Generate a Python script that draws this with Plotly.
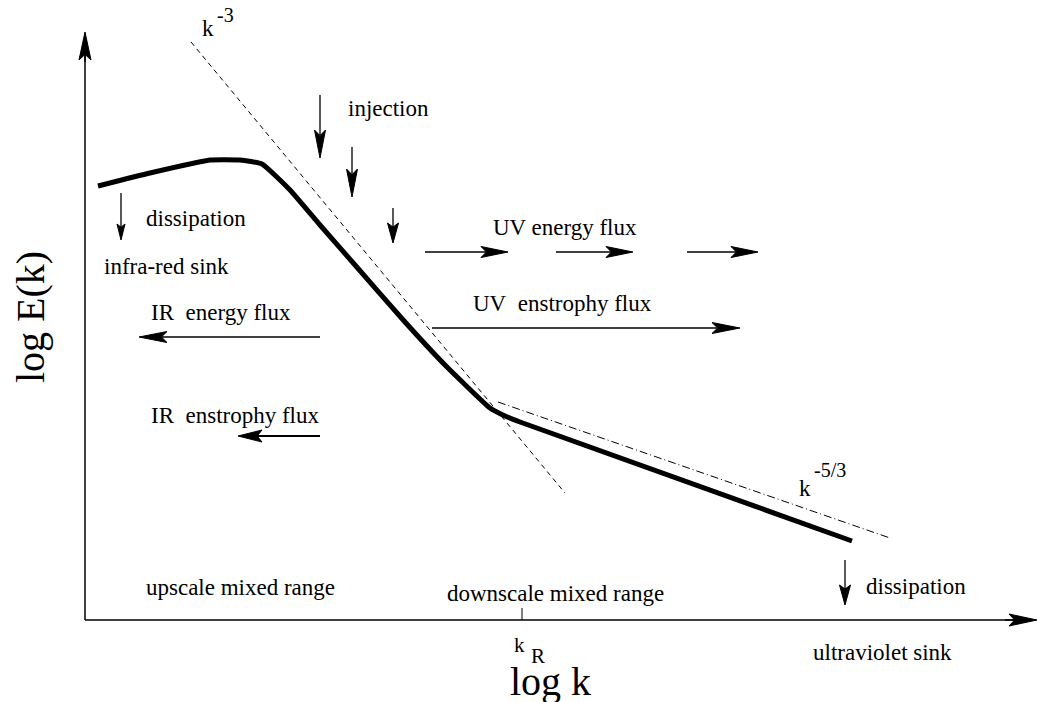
import math
import plotly.graph_objects as go

W, H = 1042, 702
FONT = "Liberation Serif, Times New Roman, serif"

# Spectrum curve (log k, log E) in diagram units (origin bottom-left of page)
spec_k = [98, 150, 210, 240, 262, 290, 320, 355, 405, 445, 490, 505, 520, 852]
spec_E = [516, 529, 542, 542, 538, 512, 477, 437, 380, 337, 294, 286, 280, 161]

# k^-3 reference line
km3_k = [191, 565]
km3_E = [660, 209]

# k^-5/3 reference line
k53_k = [498, 890]
k53_E = [300, 164]

# axes
axis_k = [85, 1037]
axis_E = [82, 670]
kR = 522

# arrows: (tail k, tail E, tip k, tip E, head length)
axis_arrows = [(85, 640, 85, 670, 28), (1005, 82, 1037, 82, 28)]
injection_arrows = [(320, 607, 320, 544, 28), (352, 555, 352, 505, 28), (393, 494, 393, 459, 20)]
dissipation_arrows = [(121, 509, 121, 462, 16), (845, 142, 845, 97, 20)]
uv_energy_arrows = [(425, 450, 508, 450, 27), (556, 450, 633, 450, 27), (687, 450, 758, 450, 27)]
uv_enstrophy_arrows = [(432, 374, 740, 374, 28)]
ir_energy_arrows = [(320, 365, 139, 365, 28)]
ir_enstrophy_arrows = [(320, 266, 238, 266, 24)]

fig = go.Figure()


def line(xs, ys, width=1.3, dash="solid"):
    fig.add_trace(go.Scatter(x=xs, y=ys, mode="lines", hoverinfo="skip",
                             line=dict(color="black", width=width, dash=dash)))


def arrow(a, lw=1.3, hw=11):
    x0, y0, x1, y1, L = a
    dx, dy = x1 - x0, y1 - y0
    n = math.hypot(dx, dy)
    ux, uy = dx / n, dy / n
    px, py = -uy, ux
    bx, by = x1 - L * ux, y1 - L * uy
    nx, ny = x1 - 0.8 * L * ux, y1 - 0.8 * L * uy
    line([x0, nx], [y0, ny], width=lw)
    fig.add_trace(go.Scatter(
        x=[x1, bx + hw / 2 * px, nx, bx - hw / 2 * px, x1],
        y=[y1, by + hw / 2 * py, ny, by - hw / 2 * py, y1],
        mode="lines", fill="toself", fillcolor="black",
        line=dict(color="black", width=1), hoverinfo="skip"))


fig.add_trace(go.Scatter(x=spec_k, y=spec_E, mode="lines", hoverinfo="skip",
                         line=dict(color="black", width=5, shape="spline", smoothing=0.4)))
line(km3_k, km3_E, width=1, dash="5px,4px")
line(k53_k, k53_E, width=1, dash="8px,3px,1px,3px")

# axes
line([axis_k[0], axis_k[1] - 20], [axis_E[0], axis_E[0]], width=1.5)
line([axis_k[0], axis_k[0]], [axis_E[0], axis_E[1] - 20], width=1.5)
line([kR, kR], [axis_E[0], axis_E[0] + 12], width=1)

for a in axis_arrows:
    arrow(a, lw=1.5, hw=12)
for group in (injection_arrows, dissipation_arrows, uv_energy_arrows,
              uv_enstrophy_arrows, ir_energy_arrows):
    for a in group:
        arrow(a, hw=11 if a[4] > 18 else 8)
for a in ir_enstrophy_arrows:
    arrow(a, lw=2, hw=12)

ann = []


def label(x, y, t, size=23, anchor="center", angle=0):
    ann.append(dict(x=x, y=y, xref="x", yref="y", text=t, showarrow=False,
                    xanchor=anchor, yanchor="middle", textangle=angle, borderpad=0,
                    font=dict(family=FONT, size=size, color="black")))


NB = "\u00a0"
label(215, 674, "k", 23, anchor="right")
label(216, 687, "-3", 20, anchor="left")
label(812, 214, "k", 23, anchor="right")
label(813, 232, "-5/3", 20, anchor="left")
label(347, 594, "injection", anchor="left")
label(145, 484, "dissipation", anchor="left")
label(103, 436, "infra-red sink", anchor="left")
label(492, 475, "UV energy flux", anchor="left")
label(472, 399, "UV" + NB + " enstrophy flux", anchor="left")
label(150, 390, "IR" + NB + " energy flux", anchor="left")
label(150, 287, "IR" + NB + " enstrophy flux", anchor="left")
label(240, 115, "upscale mixed range")
label(555, 109, "downscale mixed range")
label(865, 116, "dissipation", anchor="left")
label(882, 50, "ultraviolet sink")
label(526, 57, "k", 21, anchor="right")
label(530, 46, "R", 21, anchor="left")
label(550, 21, "log k", 40)
label(30, 385, "log E(k)", 40, angle=-90)

fig.update_layout(
    width=W, height=H, margin=dict(l=0, r=0, t=0, b=0),
    paper_bgcolor="white", plot_bgcolor="white", showlegend=False,
    xaxis=dict(range=[0, W], visible=False, fixedrange=True),
    yaxis=dict(range=[0, H], visible=False, fixedrange=True),
    annotations=ann,
)
fig.write_html("out.html", config={"displayModeBar": False},
               post_script="document.body.style.margin='0';document.body.style.overflow='hidden';")
